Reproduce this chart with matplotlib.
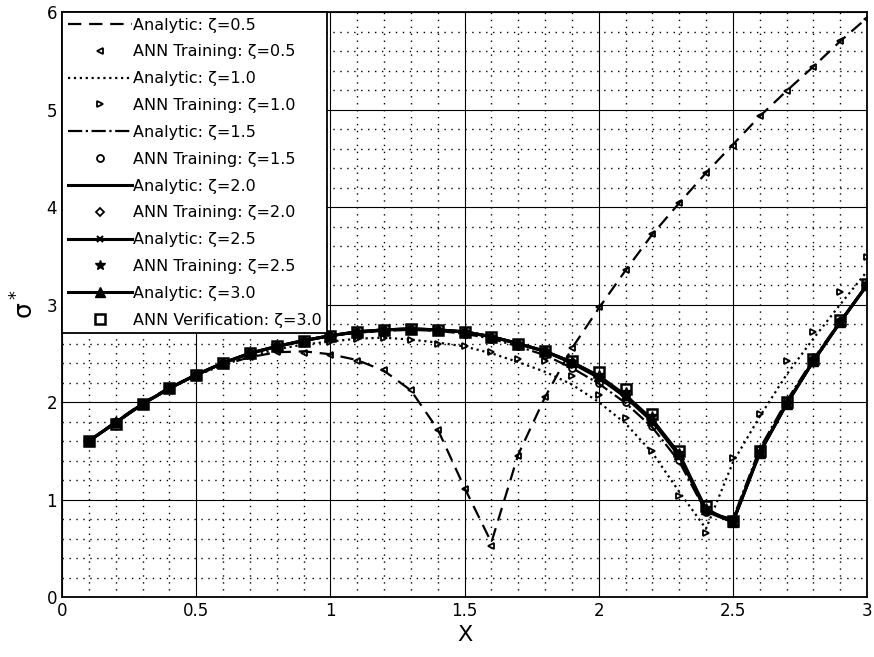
import numpy as np
import matplotlib.pyplot as plt
from matplotlib.ticker import MultipleLocator

x = [0.1, 0.2, 0.3, 0.4, 0.5, 0.6, 0.7, 0.8, 0.9, 1.0,
     1.1, 1.2, 1.3, 1.4, 1.5, 1.6, 1.7, 1.8, 1.9, 2.0,
     2.1, 2.2, 2.3, 2.4, 2.5, 2.6, 2.7, 2.8, 2.9, 3.0]

# analytic solutions
an_05 = [1.60, 1.80, 1.99, 2.15, 2.28, 2.38, 2.46, 2.51, 2.52, 2.49,
         2.43, 2.32, 2.12, 1.72, 1.12, 0.56, 1.46, 2.05, 2.55, 2.96,
         3.35, 3.72, 4.04, 4.35, 4.64, 4.93, 5.19, 5.44, 5.70, 5.94]
an_10 = [1.60, 1.79, 1.98, 2.14, 2.27, 2.38, 2.47, 2.54, 2.59, 2.62,
         2.65, 2.66, 2.64, 2.61, 2.57, 2.50, 2.41, 2.31, 2.18, 2.00,
         1.78, 1.48, 1.08, 0.70, 1.38, 1.85, 2.28, 2.65, 3.00, 3.34]
an_15 = [1.60, 1.79, 1.98, 2.14, 2.28, 2.40, 2.50, 2.57, 2.63, 2.68,
         2.71, 2.73, 2.74, 2.73, 2.70, 2.65, 2.57, 2.48, 2.35, 2.19,
         1.99, 1.74, 1.39, 0.87, 0.80, 1.52, 2.01, 2.44, 2.83, 3.20]
an_20 = [1.60, 1.79, 1.98, 2.14, 2.28, 2.40, 2.50, 2.57, 2.63, 2.68,
         2.72, 2.74, 2.75, 2.74, 2.72, 2.67, 2.60, 2.52, 2.40, 2.25,
         2.05, 1.80, 1.45, 0.88, 0.77, 1.48, 1.98, 2.42, 2.82, 3.20]
an_25 = [1.60, 1.79, 1.98, 2.14, 2.28, 2.40, 2.50, 2.57, 2.63, 2.68,
         2.72, 2.74, 2.75, 2.74, 2.72, 2.67, 2.60, 2.52, 2.41, 2.26,
         2.06, 1.81, 1.46, 0.89, 0.77, 1.48, 1.98, 2.42, 2.82, 3.20]
an_30 = [1.60, 1.79, 1.98, 2.14, 2.28, 2.40, 2.50, 2.57, 2.63, 2.68,
         2.72, 2.74, 2.75, 2.74, 2.72, 2.67, 2.60, 2.52, 2.41, 2.27,
         2.07, 1.82, 1.47, 0.90, 0.77, 1.48, 1.98, 2.42, 2.82, 3.20]

# ANN results
ann_05 = [1.60, 1.80, 1.99, 2.15, 2.28, 2.38, 2.46, 2.51, 2.50, 2.48,
          2.42, 2.33, 2.12, 1.71, 1.11, 0.52, 1.45, 2.05, 2.55, 2.97,
          3.35, 3.72, 4.04, 4.35, 4.63, 4.93, 5.19, 5.44, 5.70, 5.93]
ann_10 = [1.60, 1.79, 1.98, 2.14, 2.27, 2.38, 2.47, 2.54, 2.59, 2.62,
          2.65, 2.66, 2.64, 2.60, 2.57, 2.51, 2.44, 2.42, 2.27, 2.07,
          1.84, 1.50, 1.04, 0.66, 1.43, 1.88, 2.42, 2.72, 3.13, 3.49]
ann_15 = [1.60, 1.79, 1.98, 2.14, 2.28, 2.40, 2.50, 2.57, 2.63, 2.68,
          2.71, 2.73, 2.74, 2.73, 2.70, 2.65, 2.57, 2.48, 2.35, 2.20,
          2.00, 1.75, 1.41, 0.87, 0.80, 1.52, 2.01, 2.44, 2.83, 3.20]
ann_20 = [1.60, 1.79, 1.98, 2.14, 2.28, 2.40, 2.50, 2.57, 2.63, 2.68,
          2.72, 2.74, 2.75, 2.74, 2.72, 2.67, 2.60, 2.52, 2.40, 2.26,
          2.06, 1.81, 1.46, 0.88, 0.77, 1.48, 1.98, 2.42, 2.82, 3.20]
ann_25 = [1.60, 1.79, 1.98, 2.14, 2.28, 2.40, 2.50, 2.57, 2.63, 2.68,
          2.72, 2.74, 2.75, 2.74, 2.72, 2.67, 2.60, 2.52, 2.41, 2.28,
          2.10, 1.86, 1.48, 0.91, 0.78, 1.49, 1.99, 2.43, 2.83, 3.21]
ann_30 = [1.60, 1.77, 1.98, 2.14, 2.28, 2.40, 2.50, 2.57, 2.63, 2.68,
          2.72, 2.74, 2.75, 2.74, 2.72, 2.67, 2.60, 2.52, 2.42, 2.31,
          2.13, 1.88, 1.50, 0.93, 0.78, 1.50, 2.00, 2.44, 2.84, 3.21]

fig = plt.figure(figsize=(8.74, 6.57), dpi=100)
ax = fig.add_axes([0.071, 0.0913, 0.921, 0.8904])

lw = 1.6
ms = 5
ax.plot(x, an_05, 'k--', lw=lw, dashes=(6, 3.5), label='Analytic: ζ=0.5')
ax.plot(x, ann_05, 'k<', ms=ms, mfc='none', mew=1.3, label='ANN Training: ζ=0.5')
ax.plot(x, an_10, 'k:', lw=lw, label='Analytic: ζ=1.0')
ax.plot(x, ann_10, 'k>', ms=ms, mfc='none', mew=1.3, label='ANN Training: ζ=1.0')
ax.plot(x, an_15, 'k-.', lw=lw, label='Analytic: ζ=1.5')
ax.plot(x, ann_15, 'ko', ms=ms, mfc='none', mew=1.3, label='ANN Training: ζ=1.5')
ax.plot(x, an_20, 'k-', lw=2.2, label='Analytic: ζ=2.0')
ax.plot(x, ann_20, 'kD', ms=4, mfc='none', mew=1.3, label='ANN Training: ζ=2.0')
ax.plot(x, an_25, 'k-', lw=2.2, marker='x', ms=ms, mew=1.5, label='Analytic: ζ=2.5')
ax.plot(x, ann_25, 'k*', ms=7, label='ANN Training: ζ=2.5')
ax.plot(x, an_30, 'k-', lw=2.2, marker='^', ms=7, label='Analytic: ζ=3.0')
ax.plot(x, ann_30, 'ks', ms=7, mfc='none', mew=1.8, label='ANN Verification: ζ=3.0')

ax.set_xlim(0, 3)
ax.set_ylim(0, 6)
ax.xaxis.set_minor_locator(MultipleLocator(0.1))
ax.yaxis.set_minor_locator(MultipleLocator(0.2))
ax.set_xticks([0, 0.5, 1, 1.5, 2, 2.5, 3])
ax.set_xticklabels(['0', '0.5', '1', '1.5', '2', '2.5', '3'])
ax.set_yticks([0, 1, 2, 3, 4, 5, 6])
ax.set_yticklabels(['0', '1', '2', '3', '4', '5', '6'])
ax.grid(which='major', color='k', linestyle='-', linewidth=0.8)
ax.grid(which='minor', color='k', linestyle=(0, (1, 4)), linewidth=1.0)
ax.set_axisbelow(True)
ax.tick_params(which='both', direction='in', labelsize=12, length=0)
for s in ax.spines.values():
    s.set_linewidth(1.3)

ax.set_xlabel('X', fontsize=16, labelpad=4)
ax.set_ylabel(r'$\mathregular{\sigma^*}$', fontsize=18, rotation=90, labelpad=6)

leg = ax.legend(loc='upper left', fontsize=11.5, numpoints=1, handlelength=4.0,
                handletextpad=0.1, labelspacing=0.74, borderaxespad=0,
                borderpad=0.35, fancybox=False, framealpha=1, edgecolor='k')
leg.get_frame().set_linewidth(1.3)

fig.savefig('out.png', dpi=100)
